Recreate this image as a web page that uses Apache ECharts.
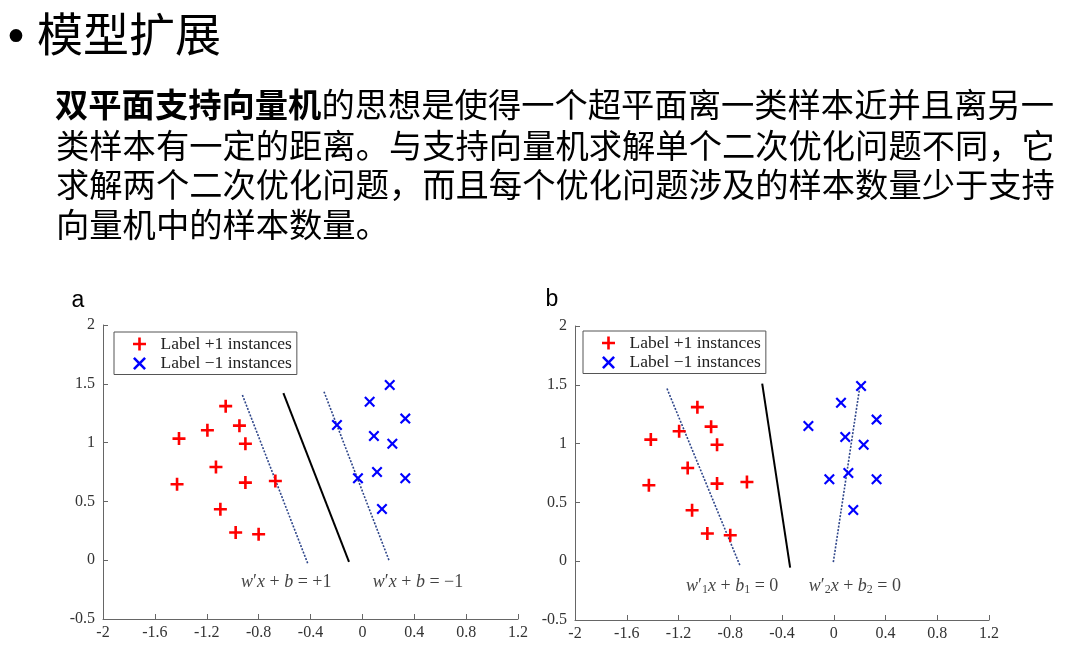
<!DOCTYPE html>
<html><head><meta charset="utf-8">
<script src="https://cdn.jsdelivr.net/npm/echarts@6/dist/echarts.min.js"></script>
<style>html,body{margin:0;padding:0;background:#fff}#c{width:1075px;height:662px}</style>
</head><body><div id="c"></div>
<script>
// ---- data ----
const titleText = '模型扩展';
const paraBold = '双平面支持向量机';
const paraLines = [
  '的思想是使得一个超平面离一类样本近并且离另一',
  '类样本有一定的距离。与支持向量机求解单个二次优化问题不同，它',
  '求解两个二次优化问题，而且每个优化问题涉及的样本数量少于支持',
  '向量机中的样本数量。'
];
const panelLabels = ['a', 'b'];
const posName = 'Label +1 instances';
const negName = 'Label \u22121 instances';
const posX = [-1.054, -1.195, -0.948, -1.414, -0.902, -1.129, -1.429, -0.902, -0.671, -1.095, -0.977, -0.800];
const posY = [1.31, 1.105, 1.144, 1.034, 0.99, 0.793, 0.646, 0.66, 0.674, 0.433, 0.235, 0.221];
const negX = [0.211, 0.056, 0.331, -0.196, 0.089, 0.231, 0.113, -0.034, 0.331, 0.151];
const negY = [1.49, 1.348, 1.204, 1.15, 1.056, 0.99, 0.75, 0.697, 0.697, 0.436];
// panel a lines
const aMarginPlus = [[-0.925, 1.405], [-0.422, -0.026]];
const aSeparator = [[-0.609, 1.42], [-0.103, -0.015]];
const aMarginMinus = [[-0.296, 1.433], [0.205, 0.0]];
// panel b lines
const bPlane1 = [[-1.289, 1.468], [-0.726, -0.034]];
const bSeparator = [[-0.553, 1.51], [-0.337, -0.054]];
const bPlane2 = [[0.201, 1.48], [-0.005, -0.02]];
// equation labels
const aEqPos = [[-0.587, -0.19], [0.429, -0.19]];
const aEqText = ['{i|w}{n|\u2032}{i|x}{n| + }{i|b}{n| = +1}', '{i|w}{n|\u2032}{i|x}{n| + }{i|b}{n| = \u22121}'];
const bEqPos = [[-0.785, -0.21], [0.163, -0.21]];
const bEqText = ['{i|w}{n|\u2032}{s|1}{i|x}{n| + }{i|b}{s|1}{n| = 0}', '{i|w}{n|\u2032}{s|2}{i|x}{n| + }{i|b}{s|2}{n| = 0}'];
// axes
const xMin = -2, xMax = 1.2, xStep = 0.4;
const yMin = -0.5, yMax = 2, yStep = 0.5;

// ---- build ----
const serif = 'Liberation Serif';
const plusPath = 'path://M4,0H6V4H10V6H6V10H4V6H0V4H4Z';
const crossPath = 'path://M0,1.4L1.4,0L5,3.6L8.6,0L10,1.4L6.4,5L10,8.6L8.6,10L5,6.4L1.4,10L0,8.6L3.6,5Z';
const zip = (xs, ys) => xs.map((x, i) => [x, ys[i]]);

const chart = echarts.init(document.getElementById('c'), null, {renderer: 'canvas'});

const grids = [
  {left: 103, top: 325, width: 415, height: 294},
  {left: 575, top: 326, width: 414, height: 294}
];
function xAxis(i) {
  return {
    type: 'value', gridIndex: i, min: xMin, max: xMax, interval: xStep,
    axisLine: {onZero: false, lineStyle: {color: '#666', width: 1}},
    axisTick: {inside: true, length: 5, lineStyle: {color: '#666'}},
    axisLabel: {fontFamily: serif, fontSize: 16, color: '#333', margin: 6},
    splitLine: {show: false}
  };
}
function yAxis(i) {
  return {
    type: 'value', gridIndex: i, min: yMin, max: yMax, interval: yStep,
    axisLine: {show: true, onZero: false, lineStyle: {color: '#666', width: 1}},
    axisTick: {show: true, inside: true, length: 5, lineStyle: {color: '#666'}},
    axisLabel: {fontFamily: serif, fontSize: 16, color: '#333', margin: 8},
    splitLine: {show: false}
  };
}
function pts(i) {
  return [
    {name: posName, type: 'scatter', xAxisIndex: i, yAxisIndex: i, symbol: plusPath, symbolSize: 13,
     itemStyle: {color: '#ff0000', opacity: 1}, data: zip(posX, posY), z: 5},
    {name: negName, type: 'scatter', xAxisIndex: i, yAxisIndex: i, symbol: crossPath, symbolSize: 11,
     itemStyle: {color: '#0000ff', opacity: 1}, data: zip(negX, negY), z: 5}
  ];
}
function line(i, data, dotted) {
  return {type: 'line', xAxisIndex: i, yAxisIndex: i, data: data, symbol: 'none', silent: true,
    lineStyle: dotted ? {color: '#2f468a', width: 1.6, type: [2, 1.5]} : {color: '#000', width: 2}, z: 3};
}
const rich = {
  i: {fontFamily: serif, fontStyle: 'italic', fontSize: 18, color: '#111', lineHeight: 20, verticalAlign: 'middle'},
  n: {fontFamily: serif, fontSize: 18, color: '#111', lineHeight: 20, verticalAlign: 'middle'},
  s: {fontFamily: serif, fontSize: 12, color: '#111', lineHeight: 10, verticalAlign: 'bottom'}
};
function eq(i, pos, texts) {
  return {type: 'scatter', xAxisIndex: i, yAxisIndex: i, symbolSize: 0, silent: true,
    data: pos, label: {show: true, position: 'inside', fontFamily: serif, fontSize: 18, color: '#111',
      lineHeight: 20, formatter: p => texts[p.dataIndex], rich: rich}};
}
function legend(left, top) {
  return {
    left: left, top: top, orient: 'vertical',
    data: [{name: posName, icon: plusPath}, {name: negName, icon: crossPath}],
    padding: [3, 5, 2, 19], itemGap: 1.5, itemWidth: 32, itemHeight: 13,
    borderColor: '#555', borderWidth: 1, borderRadius: 0, backgroundColor: '#fff',
    textStyle: {fontFamily: serif, fontSize: 17.5, color: '#222', lineHeight: 18}, selectedMode: false
  };
}

const graphic = [
  {type: 'text', x: 16, y: 41, style: {text: '\u2022', font: '44px "DejaVu Sans"', fill: '#000', textAlign: 'center', textVerticalAlign: 'middle'}},
  {type: 'text', x: 37, y: 34, style: {text: titleText, font: '46px "Noto Sans CJK SC"', fill: '#000', textVerticalAlign: 'middle'}},
  {type: 'text', x: 55, y: 104, style: {text: paraBold, font: 'bold 33.3px "Noto Sans CJK SC"', fill: '#000', textVerticalAlign: 'middle'}},
  {type: 'text', x: 55 + 8 * 33.3, y: 104, style: {text: paraLines[0], font: '33.3px "Noto Sans CJK SC"', fill: '#000', textVerticalAlign: 'middle'}},
  {type: 'text', x: 56, y: 145, style: {text: paraLines[1], font: '33.3px "Noto Sans CJK SC"', fill: '#000', textVerticalAlign: 'middle'}},
  {type: 'text', x: 56, y: 184, style: {text: paraLines[2], font: '33.3px "Noto Sans CJK SC"', fill: '#000', textVerticalAlign: 'middle'}},
  {type: 'text', x: 56, y: 224, style: {text: paraLines[3], font: '33.3px "Noto Sans CJK SC"', fill: '#000', textVerticalAlign: 'middle'}},
  {type: 'text', x: 78, y: 301, style: {text: panelLabels[0], font: '23px "Liberation Sans"', fill: '#000', textAlign: 'center', textVerticalAlign: 'middle'}},
  {type: 'text', x: 552, y: 300, style: {text: panelLabels[1], font: '23px "Liberation Sans"', fill: '#000', textAlign: 'center', textVerticalAlign: 'middle'}}
];

chart.setOption({
  animation: false,
  backgroundColor: '#fff',
  grid: grids,
  xAxis: [xAxis(0), xAxis(1)],
  yAxis: [yAxis(0), yAxis(1)],
  legend: [legend(114, 332), legend(583, 331)],
  graphic: graphic,
  series: [
    ...pts(0), ...pts(1),
    line(0, aMarginPlus, true), line(0, aSeparator, false), line(0, aMarginMinus, true),
    line(1, bPlane1, true), line(1, bSeparator, false), line(1, bPlane2, true),
    eq(0, aEqPos, aEqText), eq(1, bEqPos, bEqText)
  ]
});
</script></body></html>
